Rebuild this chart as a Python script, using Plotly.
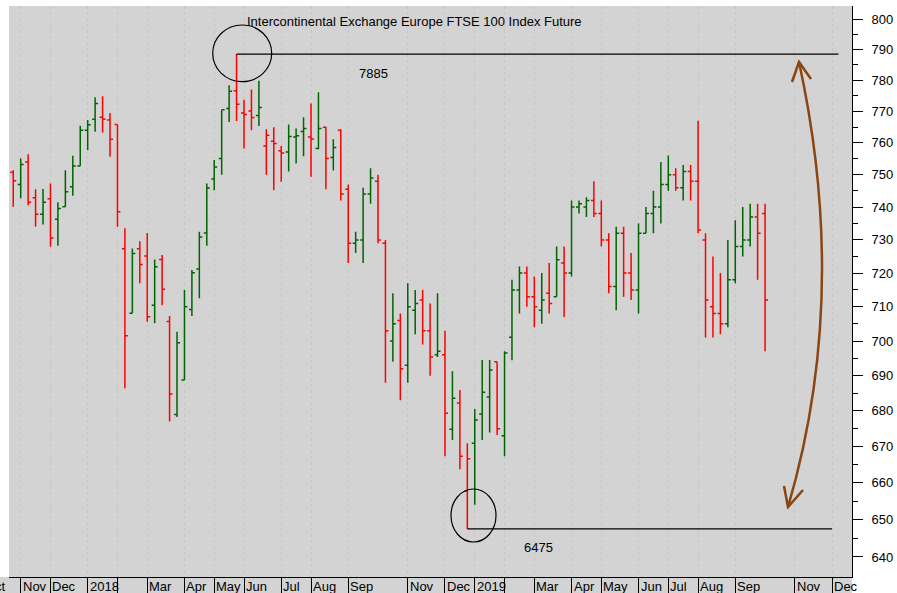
import plotly.graph_objects as go
import pandas as pd

# ---------------- data (weekly bars, Friday dates) ----------------
opens = [7508, 7470, 7540, 7429, 7378, 7426, 7363, 7401, 7463, 7527, 7640,
         7675, 7681, 7672, 7658, 7273, 7081, 7273, 7251, 7105, 7241, 7057,
         6790, 6888, 7092, 7212, 7321, 7487, 7551, 7709, 7766, 7695, 7701,
         7687, 7590, 7605, 7575, 7571, 7618, 7636, 7618, 7582, 7649, 7554,
         7640, 7455, 7290, 7300, 7440, 7480, 7290, 7000, 7060, 6930, 7090,
         7120, 7030, 6960, 6960, 6748, 6822, 6577, 6709, 6791, 6839, 6940,
         6730, 7011, 7150, 7200, 7130, 7090, 7140, 7130, 7230, 7200, 7400,
         7400, 7420, 7380, 7300, 7160, 7320, 7200, 7150, 7320, 7380, 7400,
         7470, 7500, 7460, 7510, 7480, 7300, 7100, 7080, 7050, 7180, 7280,
         7300, 7370, 7380]
highs = [7514, 7551, 7564, 7455, 7456, 7473, 7415, 7514, 7559, 7654, 7672,
         7745, 7748, 7695, 7658, 7335, 7274, 7296, 7321, 7241, 7254, 7073,
         7027, 7150, 7209, 7325, 7473, 7546, 7705, 7784, 7885, 7737, 7770,
         7798, 7643, 7649, 7590, 7658, 7645, 7681, 7725, 7761, 7651, 7611,
         7643, 7470, 7325, 7460, 7520, 7500, 7300, 7140, 7080, 7170, 7150,
         7150, 7110, 7140, 7030, 6913, 6859, 6709, 6805, 6945, 6945, 6940,
         6970, 7180, 7220, 7220, 7190, 7200, 7230, 7280, 7280, 7420, 7420,
         7430, 7480, 7420, 7320, 7340, 7340, 7260, 7350, 7400, 7450, 7540,
         7560, 7520, 7530, 7530, 7670, 7320, 7250, 7200, 7300, 7360, 7400,
         7410, 7410, 7410]
lows = [7401, 7427, 7406, 7341, 7347, 7279, 7282, 7401, 7435, 7527, 7577,
        7635, 7633, 7556, 7340, 6864, 7081, 7170, 7056, 7052, 7105, 6770,
        6783, 6888, 7073, 7125, 7282, 7452, 7500, 7666, 7669, 7582, 7640,
        7653, 7500, 7452, 7478, 7510, 7535, 7558, 7494, 7580, 7455, 7513,
        7420, 7230, 7260, 7230, 7410, 7290, 6880, 6940, 6830, 6880, 7020,
        6990, 6900, 6954, 6673, 6718, 6637, 6475, 6540, 6718, 6739, 6732,
        6673, 6944, 7080, 7100, 7040, 7050, 7080, 7130, 7070, 7190, 7380,
        7370, 7370, 7280, 7140, 7090, 7130, 7120, 7080, 7320, 7320, 7350,
        7450, 7450, 7420, 7420, 7320, 7010, 7010, 7020, 7040, 7170, 7250,
        7280, 7180, 6970]
closes = [7481, 7532, 7415, 7378, 7415, 7306, 7396, 7447, 7527, 7640, 7657,
          7725, 7675, 7611, 7386, 7015, 7259, 7226, 7071, 7219, 7152, 6848,
          6995, 7100, 7201, 7309, 7459, 7524, 7705, 7764, 7723, 7690, 7680,
          7712, 7624, 7598, 7568, 7620, 7622, 7645, 7612, 7645, 7551, 7585,
          7440, 7290, 7300, 7440, 7490, 7300, 7030, 7050, 6920, 7100, 7110,
          7030, 6954, 6970, 6793, 6836, 6673, 6666, 6774, 6853, 6916, 6750,
          6965, 7150, 7200, 7130, 7100, 7120, 7110, 7240, 7200, 7400, 7410,
          7420, 7380, 7300, 7160, 7320, 7200, 7150, 7320, 7380, 7400, 7470,
          7500, 7460, 7510, 7480, 7330, 7120, 7080, 7050, 7180, 7280, 7300,
          7370, 7320, 7120]
first_week = "2017-10-27"

# month separators (first weekly bar of each month) and their labels
sep_dates = ["2017-11-03", "2017-12-01", "2018-01-05", "2018-02-02", "2018-03-02",
             "2018-04-06", "2018-05-04", "2018-06-01", "2018-07-06", "2018-08-03",
             "2018-09-07", "2018-11-02", "2018-12-07", "2019-01-04", "2019-02-01",
             "2019-03-01", "2019-04-05", "2019-05-03", "2019-06-07", "2019-07-05",
             "2019-08-02", "2019-09-06", "2019-11-01", "2019-12-06"]
sep_labels = ["Nov", "Dec", "2018", "", "Mar", "Apr", "May", "Jun", "Jul", "Aug",
              "Sep", "Nov", "Dec", "2019", "", "Mar", "Apr", "May", "Jun", "Jul",
              "Aug", "Sep", "Nov", "Dec"]

y_tick_vals = list(range(6400, 8001, 100))
y_tick_text = [str(v // 10) for v in y_tick_vals]
y_minor_vals = list(range(6450, 8000, 100))

title_text = "Intercontinental Exchange Europe FTSE 100 Index Future"
high_value, high_date = 7885, "2018-05-25"
low_value, low_date = 6475, "2018-12-28"

# ---------------- figure ----------------
dates = pd.date_range(first_week, periods=len(closes), freq="W-FRI")
up = [closes[0] >= opens[0]] + [closes[i] >= closes[i - 1] for i in range(1, len(closes))]

W, H = 897, 593
ML, MR, MT, MB = 9, 45, 6, 16
PW, PH = W - ML - MR, H - MT - MB


def pp(x, y):
    """pixel -> paper coordinates (for decorations only)"""
    return (x - ML) / PW, (H - MB - y) / PH


GREEN, RED = "#006400", "#ff0000"
fig = go.Figure()
for flag, col in ((True, GREEN), (False, RED)):
    idx = [i for i, u in enumerate(up) if u == flag]
    fig.add_trace(go.Ohlc(
        x=[dates[i] for i in idx],
        open=[opens[i] for i in idx], high=[highs[i] for i in idx],
        low=[lows[i] for i in idx], close=[closes[i] for i in idx],
        increasing=dict(line=dict(color=col, width=1.5)),
        decreasing=dict(line=dict(color=col, width=1.5)),
        tickwidth=0.4, hoverinfo="skip", showlegend=False))

FONT = "Liberation Sans, Arial, sans-serif"
shapes = []
# bottom label strip background
x0, _ = pp(0, 0)
shapes.append(dict(type="rect", xref="paper", yref="paper", x0=x0, x1=1,
                   y0=-MB / PH, y1=0, fillcolor="#d3d3d3", line=dict(width=0), layer="below"))
# horizontal high/low lines
shapes.append(dict(type="line", xref="x", yref="y", x0=high_date, x1="2019-12-12",
                   y0=high_value, y1=high_value, line=dict(color="black", width=1.2)))
shapes.append(dict(type="line", xref="x", yref="y", x0=low_date, x1="2019-12-06",
                   y0=low_value, y1=low_value, line=dict(color="black", width=1.2)))
# circles
a, b = pp(212.7, 81.7); c, d = pp(271.7, 25)
shapes.append(dict(type="circle", xref="paper", yref="paper", x0=a, y0=b, x1=c, y1=d,
                   line=dict(color="black", width=1.2)))
a, b = pp(451, 542); c, d = pp(496, 489)
shapes.append(dict(type="circle", xref="paper", yref="paper", x0=a, y0=b, x1=c, y1=d,
                   line=dict(color="black", width=1.2)))
# brown double arrow
BROWN = "#8B4513"
p0, pc, p1 = pp(799, 62), pp(850, 296), pp(788, 507)
shapes.append(dict(type="path", xref="paper", yref="paper",
                   path=f"M {p0[0]},{p0[1]} Q {pc[0]},{pc[1]} {p1[0]},{p1[1]}",
                   line=dict(color=BROWN, width=2.5)))
for arm1, tip, arm2 in (((792, 82), (799, 62), (811, 79)), ((784, 486), (788, 507), (803, 490))):
    q1, qt, q2 = pp(*arm1), pp(*tip), pp(*arm2)
    shapes.append(dict(type="path", xref="paper", yref="paper",
                       path=f"M {q1[0]},{q1[1]} L {qt[0]},{qt[1]} L {q2[0]},{q2[1]}",
                       line=dict(color=BROWN, width=2.5)))

annotations = []
tx, ty = pp(245, 21)
annotations.append(dict(text=title_text, xref="paper", yref="paper", x=tx, y=ty,
                        xanchor="left", yanchor="middle", showarrow=False,
                        font=dict(family=FONT, size=13, color="black")))
for txt, (px_, py_) in ((str(high_value), (357, 73)), (str(low_value), (522, 547))):
    ax_, ay_ = pp(px_, py_)
    annotations.append(dict(text=txt, xref="paper", yref="paper", x=ax_, y=ay_,
                            xanchor="left", yanchor="middle", showarrow=False,
                            font=dict(family=FONT, size=13, color="black")))
for dte, lab in zip(sep_dates, sep_labels):
    if lab:
        annotations.append(dict(text=lab, xref="x", yref="paper", x=dte, y=0,
                                xanchor="left", yanchor="top", xshift=0, yshift=0,
                                showarrow=False,
                                font=dict(family=FONT, size=13, color="black")))
ox, _ = pp(8, 0)
annotations.append(dict(text="Oct", xref="paper", yref="paper", x=ox, y=0,
                        xanchor="right", yanchor="top", showarrow=False,
                        font=dict(family=FONT, size=13, color="black")))

fig.update_layout(
    width=W, height=H, margin=dict(l=ML, r=MR, t=MT, b=MB, autoexpand=False),
    paper_bgcolor="white", plot_bgcolor="#d3d3d3",
    font=dict(family=FONT, size=13, color="black"),
    shapes=shapes, annotations=annotations, showlegend=False,
    xaxis=dict(type="date", range=["2017-10-23", "2019-12-24 18:00"],
               rangeslider=dict(visible=False),
               tickmode="array", tickvals=sep_dates, showticklabels=False,
               ticks="outside", ticklen=MB, tickcolor="black", tickwidth=1,
               showgrid=True, gridcolor="#c6c6c6", griddash="dot", gridwidth=1,
               showline=True, linecolor="black", linewidth=1, zeroline=False),
    yaxis=dict(type="log", side="right",
               range=[3.80257, 3.90547],
               tickmode="array", tickvals=y_tick_vals, ticktext=y_tick_text,
               ticks="outside", ticklen=10, tickcolor="black", tickwidth=1,
               ticklabelstandoff=6,
               minor=dict(tickmode="array", tickvals=y_minor_vals, ticks="outside",
                          ticklen=5, tickcolor="black", tickwidth=1, showgrid=False),
               showgrid=False, showline=True, linecolor="black", linewidth=1,
               zeroline=False, tickfont=dict(family=FONT, size=13, color="black")),
)
fig.write_html("out.html", config={"displayModeBar": False},
               post_script="document.body.style.margin='0';document.body.style.padding='0';")
